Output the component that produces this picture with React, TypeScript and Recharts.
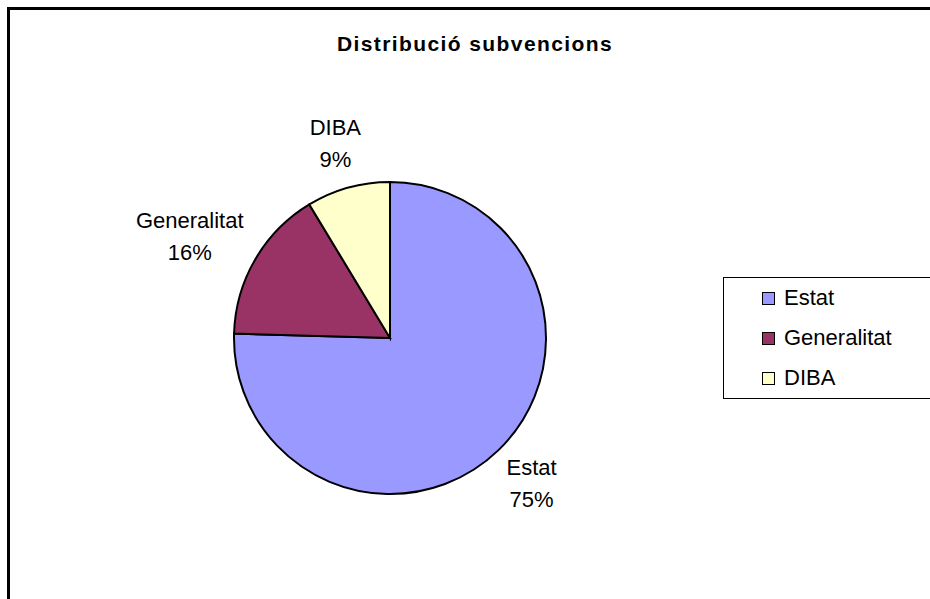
import React from "react";
import { PieChart, Pie, Cell, Legend } from "recharts";

const categories = ["Estat", "Generalitat", "DIBA"];
const shares = [75.45, 15.9, 8.65];
const sliceColors = ["#9999FF", "#993366", "#FFFFCC"];
const chartTitle = "Distribució subvencions";

const data = categories.map((name, i) => ({ name, value: shares[i] }));
const total = shares.reduce((a, b) => a + b, 0);

const FONT = '"Liberation Sans", Arial, sans-serif';
const LABEL_SIZE = 22;

let ctx: CanvasRenderingContext2D | null = null;
function textWidth(s: string): number {
  if (!ctx) {
    const c = document.createElement("canvas");
    ctx = c.getContext("2d");
  }
  if (!ctx) return s.length * LABEL_SIZE * 0.5;
  ctx.font = `${LABEL_SIZE}px ${FONT}`;
  return ctx.measureText(s).width;
}

const renderLabel = (props: any) => {
  const { cx, cy, midAngle, outerRadius, index } = props;
  const name = categories[index];
  const pct = `${Math.round((shares[index] / total) * 100)}%`;
  const RAD = Math.PI / 180;
  const ux = Math.cos(-midAngle * RAD);
  const uy = Math.sin(-midAngle * RAD);
  const d = outerRadius + 22;
  const w = Math.max(textWidth(name), textWidth(pct));
  const h = 48;
  const x = cx + d * ux + (w / 2) * ux;
  const yc = cy + d * uy + (h / 2) * uy;
  return (
    <text
      x={x}
      textAnchor="middle"
      fontFamily={FONT}
      fontSize={LABEL_SIZE}
      fill="#000"
    >
      <tspan x={x} y={yc - 8}>
        {name}
      </tspan>
      <tspan x={x} y={yc + 24}>
        {pct}
      </tspan>
    </text>
  );
};

const renderLegend = () => (
  <div
    style={{
      position: "absolute",
      left: 0,
      top: 0,
      width: 230,
      height: 122,
      boxSizing: "border-box",
      border: "1.5px solid #000",
      background: "#fff",
      fontFamily: FONT,
      fontSize: LABEL_SIZE,
      color: "#000",
    }}
  >
    {categories.map((name, i) => (
      <div
        key={name}
        style={{
          position: "absolute",
          left: 38,
          top: 8 + i * 40,
          height: 24,
          display: "flex",
          alignItems: "center",
          whiteSpace: "nowrap",
        }}
      >
        <span
          style={{
            display: "inline-block",
            width: 11,
            height: 11,
            border: "1px solid #000",
            background: sliceColors[i],
            marginRight: 9,
          }}
        />
        <span style={{ lineHeight: "24px" }}>{name}</span>
      </div>
    ))}
  </div>
);

export default function App() {
  return (
    <div
      style={{
        position: "fixed",
        left: 0,
        top: 0,
        width: 930,
        height: 599,
        overflow: "hidden",
        background: "#fff",
      }}
    >
      <style>{"body{overflow:hidden;margin:0}"}</style>
      <div
        style={{
          position: "absolute",
          left: 7,
          top: 7,
          width: 960,
          height: 640,
          border: "3px solid #000",
          boxSizing: "border-box",
        }}
      />
      <div style={{ position: "absolute", left: 0, top: 0 }}>
        <PieChart width={930} height={599} margin={{ top: 0, right: 0, bottom: 0, left: 0 }}>
          <Pie
            data={data}
            dataKey="value"
            nameKey="name"
            cx={390}
            cy={338}
            outerRadius={156}
            startAngle={90}
            endAngle={-270}
            stroke="#000"
            strokeWidth={2}
            label={renderLabel}
            labelLine={false}
            isAnimationActive={false}
          >
            {data.map((d, i) => (
              <Cell key={d.name} fill={sliceColors[i]} />
            ))}
          </Pie>
          <Legend
            content={renderLegend}
            wrapperStyle={{ position: "absolute", left: 723, top: 277, width: 230, height: 122 }}
          />
        </PieChart>
      </div>
      <svg
        width={930}
        height={599}
        style={{ position: "absolute", left: 0, top: 0, pointerEvents: "none" }}
      >
        <text
          x={475}
          y={51}
          textAnchor="middle"
          fontFamily={FONT}
          fontWeight="bold"
          fontSize={21}
          letterSpacing={1.4}
          fill="#000"
        >
          {chartTitle}
        </text>
      </svg>
    </div>
  );
}
